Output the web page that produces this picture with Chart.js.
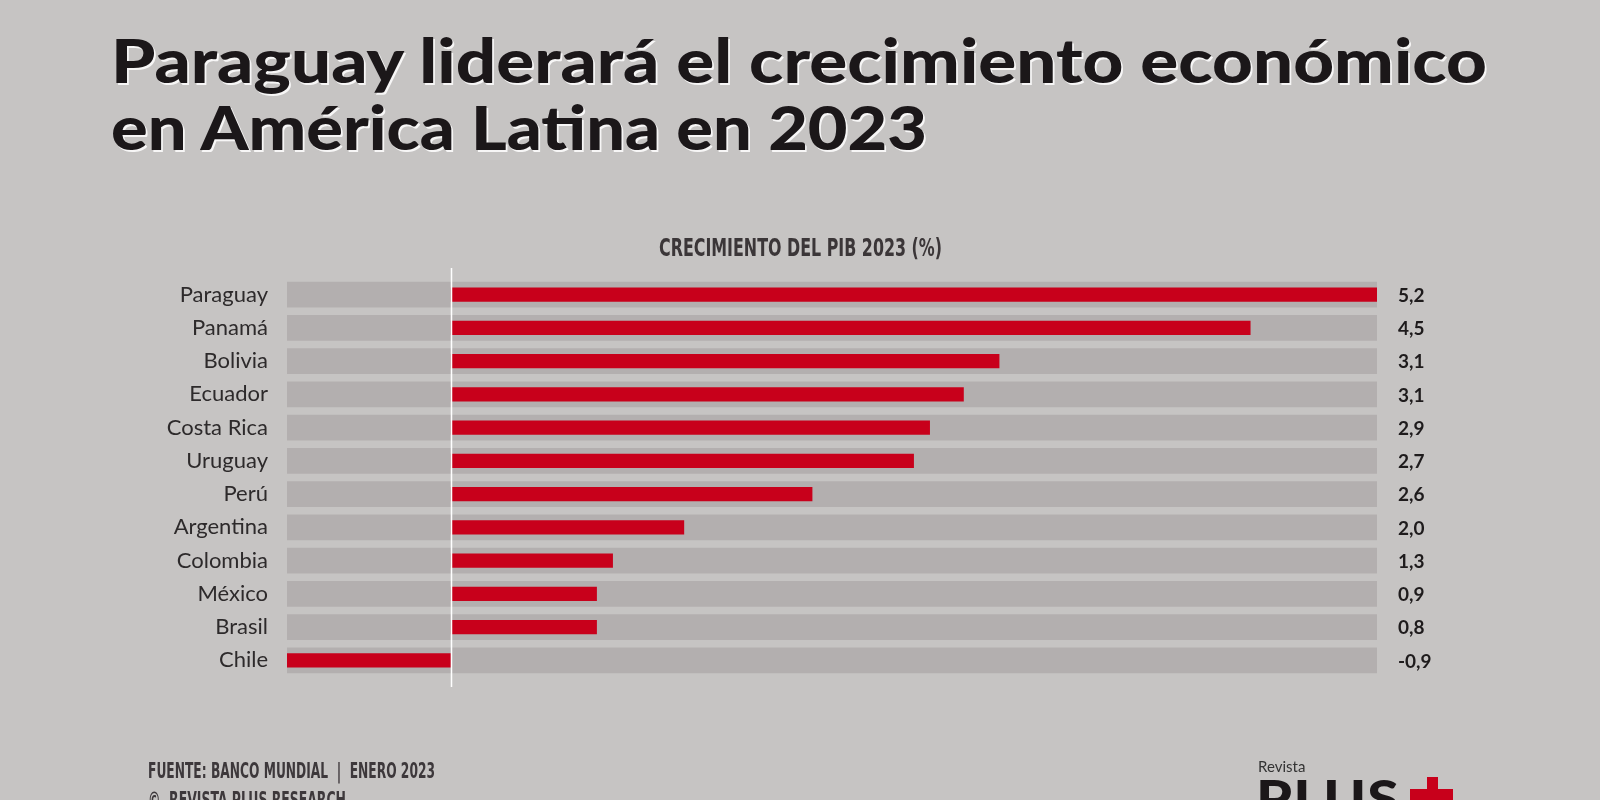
<!DOCTYPE html>
<html>
<head>
<meta charset="utf-8">
<script src="https://cdn.jsdelivr.net/npm/chart.js@4.4.1/dist/chart.umd.min.js"></script>
<style>
  html, body { margin: 0; padding: 0; }
  body { width: 1600px; height: 800px; overflow: hidden; background: #c6c4c3; position: relative; font-family: Lato, "Open Sans", sans-serif; }
  #chartWrap { position: absolute; left: 0; top: 0; width: 1600px; height: 800px; }
  .title { position: absolute; left: 111px; font-family: Lato, "Noto Sans", sans-serif; font-weight: 900; font-size: 61px; line-height: 68px; color: #1b1719; white-space: nowrap; text-shadow: 1.5px 1.5px 0 rgba(255,255,255,0.85); transform-origin: left top; }
  .sub { position: absolute; left: 800px; top: 235px; font-family: "Liberation Sans Narrow", "DejaVu Sans Condensed", sans-serif; font-weight: 700; font-size: 25px; line-height: 25px; color: #3b3638; white-space: nowrap; transform-origin: left top; }
  .foot { position: absolute; left: 148px; font-family: "Liberation Sans Narrow", "DejaVu Sans Condensed", sans-serif; font-weight: 700; font-size: 22px; line-height: 22px; color: #3d383b; white-space: nowrap; transform-origin: left top; }
  .logoSmall { position: absolute; left: 1258px; top: 759px; font-family: Lato, sans-serif; font-size: 15px; line-height: 15px; color: #333; }
  .logoBig { position: absolute; left: 1256px; top: 771px; font-family: Lato, sans-serif; font-weight: 900; font-size: 52px; line-height: 52px; color: #1b1719; letter-spacing: 1px; transform-origin: left top; }
  .plusV { position: absolute; left: 1427px; top: 777px; width: 11px; height: 40px; background: #c8001b; }
  .plusH { position: absolute; left: 1410px; top: 789px; width: 43px; height: 11px; background: #c8001b; }
</style>
</head>
<body>
<div id="chartWrap"><canvas id="c" width="1600" height="800"></canvas></div>
<div class="title" id="t1" style="top:26px;">Paraguay liderará el crecimiento económico</div>
<div class="title" id="t2" style="top:93px;">en América Latina en 2023</div>
<div class="sub" id="sub">CRECIMIENTO DEL PIB 2023 (%)</div>
<div class="foot" id="f1" style="top:760px;">FUENTE: BANCO MUNDIAL &nbsp;|&nbsp; ENERO 2023</div>
<div class="foot" id="f2" style="top:789px;">©&nbsp; REVISTA PLUS RESEARCH</div>
<div class="logoSmall">Revista</div>
<div class="logoBig" id="logo">PLUS</div>
<div class="plusV"></div>
<div class="plusH"></div>
<script>
const categories = ['Paraguay', 'Panamá', 'Bolivia', 'Ecuador', 'Costa Rica', 'Uruguay', 'Perú', 'Argentina', 'Colombia', 'México', 'Brasil', 'Chile'];
const barValues = [5.2, 4.49, 3.08, 2.88, 2.69, 2.60, 2.03, 1.31, 0.91, 0.82, 0.82, -0.92];
const valueLabels = ['5,2', '4,5', '3,1', '3,1', '2,9', '2,7', '2,6', '2,0', '1,3', '0,9', '0,8', '-0,9'];
const axisRange = [-0.92, 5.2];

// fit widths of some text blocks
function fitWidth(id, target) {
  const el = document.getElementById(id);
  const w = el.getBoundingClientRect().width;
  el.style.transform = 'scaleX(' + (target / w) + ')';
}
fitWidth('t1', 1376);
fitWidth('t2', 816);
(function () {
  const el = document.getElementById('sub');
  const w = el.getBoundingClientRect().width;
  const s = 283 / w;
  el.style.left = (800 - 283 / 2) + 'px';
  el.style.transform = 'scaleX(' + s + ')';
})();
fitWidth('f1', 287);
fitWidth('f2', 198);
fitWidth('logo', 144);

const trackData = categories.map(() => axisRange.slice());

const valueLabelPlugin = {
  id: 'valueLabels',
  afterDatasetsDraw(chart) {
    const ctx = chart.ctx;
    const xs = chart.scales.x, ys = chart.scales.y, ca = chart.chartArea;
    // zero line
    const x0 = Math.round(xs.getPixelForValue(0)) + 0.5;
    ctx.save();
    ctx.strokeStyle = '#ffffff';
    ctx.lineWidth = 1.5;
    ctx.beginPath();
    ctx.moveTo(x0, ca.top - 10);
    ctx.lineTo(x0, ca.bottom + 10);
    ctx.stroke();
    // value labels
    ctx.fillStyle = '#1e1b1c';
    ctx.font = 'bold 19px Lato, "Open Sans", sans-serif';
    ctx.textAlign = 'left';
    ctx.textBaseline = 'middle';
    valueLabels.forEach((lab, i) => {
      ctx.fillText(lab, ca.right + 21, ys.getPixelForValue(i) + 1);
    });
    ctx.restore();
  }
};

new Chart(document.getElementById('c'), {
  type: 'bar',
  data: {
    labels: categories,
    datasets: [
      {
        label: 'Crecimiento del PIB 2023 (%)',
        data: barValues,
        backgroundColor: '#c8001b',
        borderWidth: 0,
        grouped: false,
        barPercentage: 0.43,
        categoryPercentage: 1,
        order: 0
      },
      {
        label: 'track',
        data: trackData,
        backgroundColor: '#b3afaf',
        borderWidth: 0,
        grouped: false,
        barPercentage: 0.78,
        categoryPercentage: 1,
        order: 1
      }
    ]
  },
  options: {
    indexAxis: 'y',
    responsive: false,
    devicePixelRatio: 1,
    animation: false,
    layout: { padding: { left: 0, right: 223, top: 278, bottom: 123 } },
    plugins: { legend: { display: false }, tooltip: { enabled: false }, title: { display: false } },
    scales: {
      x: { min: axisRange[0], max: axisRange[1], display: false },
      y: {
        grid: { display: false, drawTicks: false },
        border: { display: false },
        ticks: { color: '#2d2a2b', font: { family: 'Lato, "Open Sans", sans-serif', size: 22 }, padding: 19 },
        afterFit(scale) { scale.width = 287; }
      }
    }
  },
  plugins: [valueLabelPlugin]
});
</script>
</body>
</html>
